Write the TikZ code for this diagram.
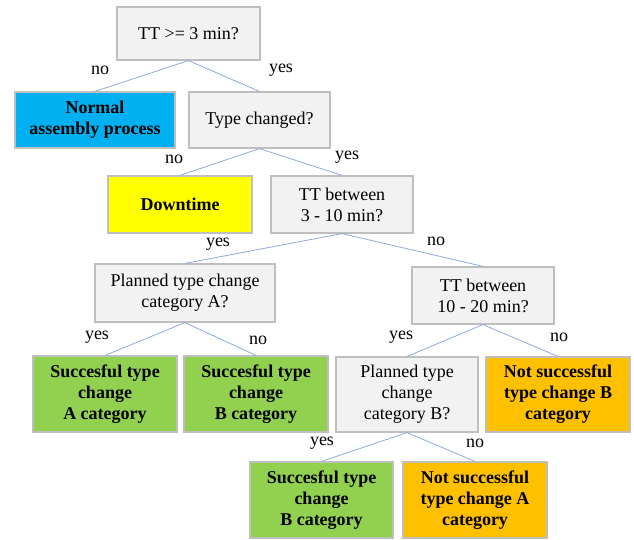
\documentclass[tikz,border=0pt]{standalone}
\usepackage{fontspec}
\setmainfont{Liberation Serif}
\usepackage{xcolor}
\definecolor{boxgray}{HTML}{F2F2F2}
\definecolor{edgegray}{HTML}{BFBFBF}
\definecolor{linkblue}{HTML}{8FAADC}
\definecolor{normblue}{HTML}{00B0F0}
\definecolor{downyellow}{HTML}{FFFF00}
\definecolor{okgreen}{HTML}{92D050}
\definecolor{failorange}{HTML}{FFC000}
\newcommand{\ddsize}{\fontsize{18}{21}\selectfont}
\tikzset{
  qbox/.style={draw=edgegray,line width=1.2pt,fill=boxgray,align=center,inner sep=0pt,font=\ddsize},
  rbox/.style={qbox,font=\ddsize\bfseries},
  lbl/.style={inner sep=0pt,font=\ddsize},
  link/.style={linkblue,line width=0.8pt}
}

\begin{document}
\begin{tikzpicture}[x=1pt,y=-1pt]
\useasboundingbox (0,0) rectangle (634,539);
% questions
\node[qbox,minimum width=143,minimum height=53] (q1) at (188.5,33.5) {TT >= 3 min?};
\node[qbox,minimum width=141,minimum height=56] (typech) at (259.5,120) {Type changed?};
\node[qbox,minimum width=142,minimum height=57] (tt310) at (342,204.5) {TT between\\3 - 10 min?};
\node[qbox,minimum width=180,minimum height=58] (planA) at (185,293) {Planned type change\\category A?};
\node[qbox,minimum width=142,minimum height=57] (tt1020) at (483,295.5) {TT between\\10 - 20 min?};
\node[qbox,minimum width=142,minimum height=75] (planB) at (407,394.5) {Planned type\\change\\category B?};
% results
\node[rbox,fill=normblue,minimum width=160,minimum height=56] (normal) at (95,120) {Normal\\assembly process};
\node[rbox,fill=downyellow,minimum width=144,minimum height=57] (down) at (180,204.5) {Downtime};
\node[rbox,fill=okgreen,minimum width=144,minimum height=76] (succA) at (105,394) {Succesful type\\change\\A category};
\node[rbox,fill=okgreen,minimum width=144,minimum height=76] (succB) at (256,394) {Succesful type\\change\\B category};
\node[rbox,fill=failorange,minimum width=144,minimum height=75] (notB) at (558,394.5) {Not successful\\type change B\\category};
\node[rbox,fill=okgreen,minimum width=143,minimum height=76] (succBB) at (321.5,500) {Succesful type\\change\\B category};
\node[rbox,fill=failorange,minimum width=144,minimum height=76] (notA) at (475,500) {Not successful\\type change A\\category};
% links
\foreach \a/\b in {q1/normal,q1/typech,typech/down,typech/tt310,tt310/planA,tt310/tt1020,
  planA/succA,planA/succB,tt1020/planB,tt1020/notB,planB/succBB,planB/notA}
  \draw[link] (\a.south) -- (\b.north);
% answers
\foreach \t/\x/\y/\n in {no/100/70/a1,yes/281/70/a2,no/174/159/a3,yes/347/157/a4,
  yes/218/244/a5,no/436/241/a6,yes/97/337/a7,no/258/340/a8,
  yes/401/337/a9,no/559/337/a10,yes/322/443/a11,no/475/443/a12}
  \node[lbl] (\n) at (\x,\y) {\t};
\end{tikzpicture}
\end{document}
